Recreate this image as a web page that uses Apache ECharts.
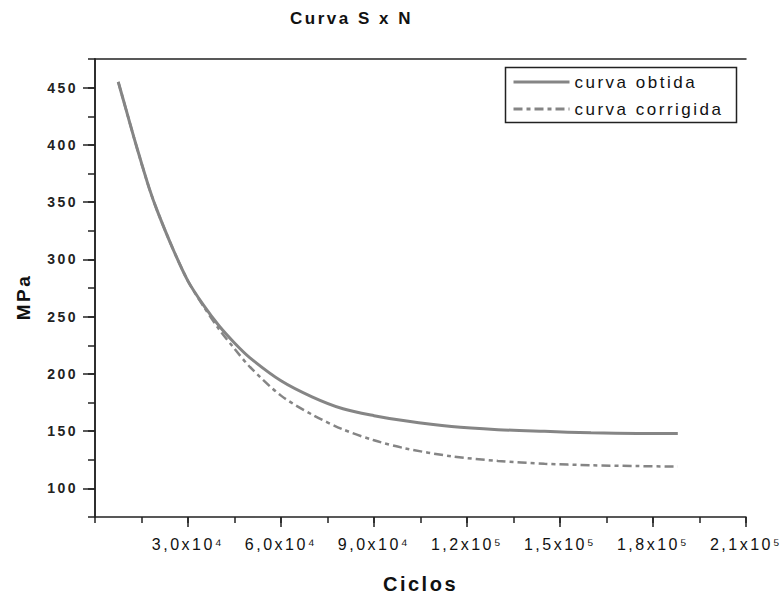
<!DOCTYPE html>
<html>
<head>
<meta charset="utf-8">
<script src="https://cdn.jsdelivr.net/npm/echarts@6/dist/echarts.min.js"></script>
<style>
  html, body { margin: 0; padding: 0; background: #fff; }
  #main { width: 783px; height: 599px; }
  #main text { letter-spacing: 2.5px; }
</style>
</head>
<body>
<div id="main"></div>
<script>
// ---- data ----
const cycles = [7500, 10000, 12500, 15000, 17500, 20000, 25000, 30000, 35000, 40000, 45000, 50000, 60000, 70000, 80000, 90000, 100000, 115000, 130000, 145000, 160000, 175000, 188000];
const curvaObtida = [455, 431, 407, 384, 362, 343, 310, 281, 260, 242, 227, 214, 194, 180, 169.5, 163.5, 159, 154, 151.3, 149.8, 148.5, 148, 148];
const curvaCorrigida = [455, 431, 407, 384, 362, 343, 310, 281, 259, 239, 222, 206, 181, 164.5, 151.5, 142, 135, 128, 124, 121.5, 120.2, 119.5, 119];
const seriesNames = ['curva obtida', 'curva corrigida'];
const xTickValues = [30000, 60000, 90000, 120000, 150000, 180000, 210000];
const xTickLabels = ['3,0x10\u2074', '6,0x10\u2074', '9,0x10\u2074', '1,2x10\u2075', '1,5x10\u2075', '1,8x10\u2075', '2,1x10\u2075'];
const yTickValues = [100, 150, 200, 250, 300, 350, 400, 450];
const titleText = 'Curva S x N';
const xName = 'Ciclos';
const yName = 'MPa';

const FONT = 'Liberation Sans';
const AX = '#222';
const LINE = '#858585';

const chart = echarts.init(document.getElementById('main'), null, { renderer: 'svg' });

const xLabelMap = {};
xTickValues.forEach((v, i) => { xLabelMap[v] = xTickLabels[i]; });

const option = {
  animation: false,
  backgroundColor: '#fff',
  title: {
    text: titleText,
    left: 290, top: 10, padding: 0,
    textStyle: { fontFamily: FONT, fontSize: 17, fontWeight: 'bold', color: '#111' }
  },
  legend: {
    orient: 'vertical',
    left: 512, top: 73,
    itemWidth: 56, itemHeight: 18, itemGap: 9,
    padding: 0,
    itemStyle: { opacity: 0 },
    lineStyle: { width: 3 },
    textStyle: { fontFamily: FONT, fontSize: 17, color: '#111', lineHeight: 18 },
    data: seriesNames
  },
  graphic: [{
    type: 'rect',
    shape: { x: 505.5, y: 67.5, width: 231, height: 55 },
    style: { fill: 'none', stroke: AX, lineWidth: 1.5 },
    silent: true
  }],
  grid: { left: 95, right: 37, top: 59, bottom: 76 },
  xAxis: [
    {
      type: 'value', min: 0, max: 210000, interval: 15000, position: 'bottom',
      axisLine: { show: true, lineStyle: { color: AX, width: 1.5 } },
      axisTick: { show: true, length: 6, lineStyle: { color: AX, width: 1.5 } },
      axisLabel: { show: false },
      splitLine: { show: false },
      name: xName, nameLocation: 'middle', nameGap: 57,
      nameTextStyle: { fontFamily: FONT, fontSize: 20, fontWeight: 'bold', color: '#111' }
    },
    {
      type: 'value', min: 0, max: 210000, position: 'bottom',
      axisLine: { show: false },
      axisTick: { show: true, customValues: xTickValues, length: 10, lineStyle: { color: AX, width: 1.5 } },
      axisLabel: {
        show: true, customValues: xTickValues, margin: 19,
        fontFamily: FONT, fontSize: 16, color: '#111',
        formatter: v => xLabelMap[v] || ''
      },
      splitLine: { show: false }
    },
    {
      type: 'value', min: 0, max: 210000, position: 'top',
      axisLine: { show: true, lineStyle: { color: AX, width: 1.5 } },
      axisTick: { show: false }, axisLabel: { show: false }, splitLine: { show: false }
    }
  ],
  yAxis: [
    {
      type: 'value', min: 75, max: 475, interval: 25, position: 'left',
      axisLine: { show: true, lineStyle: { color: AX, width: 1.5 } },
      axisTick: { show: true, length: 7, lineStyle: { color: AX, width: 1.5 } },
      axisLabel: { show: false },
      splitLine: { show: false },
      name: yName, nameLocation: 'middle', nameGap: 62,
      nameTextStyle: { fontFamily: FONT, fontSize: 19, fontWeight: 'bold', color: '#111', padding: [0, 18, 0, 0] }
    },
    {
      type: 'value', min: 75, max: 475, position: 'left',
      axisLine: { show: false },
      axisTick: { show: true, customValues: yTickValues, length: 12, lineStyle: { color: AX, width: 1.5 } },
      axisLabel: {
        show: true, customValues: yTickValues, margin: 17,
        fontFamily: FONT, fontSize: 14, fontWeight: 'bold', color: '#222'
      },
      splitLine: { show: false }
    },
    {
      type: 'value', min: 75, max: 475, position: 'right',
      axisLine: { show: true, lineStyle: { color: AX, width: 1.5 } },
      axisTick: { show: false }, axisLabel: { show: false }, splitLine: { show: false }
    }
  ],
  series: [
    {
      name: seriesNames[0], type: 'line', xAxisIndex: 0, yAxisIndex: 0,
      data: cycles.map((c, i) => [c, curvaObtida[i]]),
      smooth: 0.3, symbol: 'none', showSymbol: false,
      lineStyle: { color: LINE, width: 3 },
      itemStyle: { color: LINE }
    },
    {
      name: seriesNames[1], type: 'line', xAxisIndex: 0, yAxisIndex: 0,
      data: cycles.map((c, i) => [c, curvaCorrigida[i]]),
      smooth: 0.3, symbol: 'none', showSymbol: false,
      lineStyle: { color: LINE, width: 2.5, type: [9, 4, 4, 4] },
      itemStyle: { color: LINE }
    }
  ]
};
chart.setOption(option);
</script>
</body>
</html>
